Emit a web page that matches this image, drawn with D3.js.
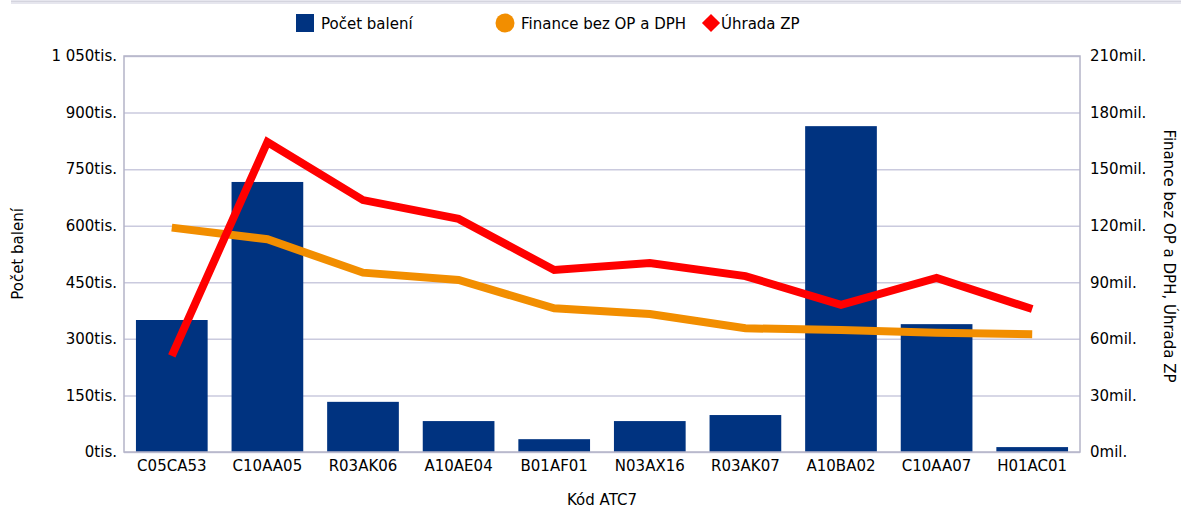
<!DOCTYPE html>
<html>
<head>
<meta charset="utf-8">
<script src="https://cdn.jsdelivr.net/npm/d3@7"></script>
<style>
  body { margin: 0; background: #fff; }
  svg text { font-family: "DejaVu Sans", Verdana, sans-serif; font-size: 15px; fill: #000; }
</style>
</head>
<body>
<svg width="1181" height="508"></svg>
<script>
const svg = d3.select('svg');

const width = +svg.attr('width');
const height = +svg.attr('height');

// data
const codes = ['C05CA53', 'C10AA05', 'R03AK06', 'A10AE04', 'B01AF01', 'N03AX16', 'R03AK07', 'A10BA02', 'C10AA07', 'H01AC01'];
const packs = [350, 716, 133, 82, 34, 82, 98, 864, 339, 13];          // tis.
const finance = [119, 112.8, 95.1, 91.2, 76.2, 73.2, 65.6, 64.7, 63.3, 62.4]; // mil.
const uhrada = [51, 164.4, 133.6, 123.6, 96.5, 100.2, 93.3, 78, 92.3, 75.8];  // mil.
const leftTicks = [0, 150, 300, 450, 600, 750, 900, 1050];
const rightTicks = [0, 30, 60, 90, 120, 150, 180, 210];

const margin = { top: 56, right: 101, bottom: 56, left: 124 };
const innerWidth = width - margin.left - margin.right;
const innerHeight = height - margin.top - margin.bottom;

const barColor = '#003380';
const financeColor = '#f28e00';
const uhradaColor = '#ff0000';

// top decorative band
svg.append('rect')
  .attr('x', 11).attr('y', 0).attr('width', width - 11).attr('height', 4)
  .attr('fill', '#e6e6ee');
svg.append('line')
  .attr('x1', 11).attr('x2', width).attr('y1', 1.5).attr('y2', 1.5)
  .attr('stroke', '#d4d4de').attr('stroke-width', 1);

const g = svg.append('g')
  .attr('transform', `translate(${margin.left},${margin.top})`);

const xScale = d3.scaleBand()
  .domain(codes)
  .range([0, innerWidth])
  .paddingInner(0.25)
  .paddingOuter(0.125);

const yLeft = d3.scaleLinear().domain([0, 1050]).range([innerHeight, 0]);
const yRight = d3.scaleLinear().domain([0, 210]).range([innerHeight, 0]);

// gridlines
g.append('g')
  .attr('class', 'grid')
  .call(d3.axisLeft(yLeft).tickValues(leftTicks).tickSize(-innerWidth).tickFormat(''))
  .call(s => s.select('.domain').remove())
  .call(s => s.selectAll('line').attr('stroke', '#cacade').attr('stroke-width', 1.5));

// bars
g.selectAll('rect.bar').data(packs)
  .enter().append('rect')
    .attr('class', 'bar')
    .attr('x', (d, i) => xScale(codes[i]))
    .attr('width', xScale.bandwidth())
    .attr('y', d => yLeft(d))
    .attr('height', d => innerHeight - yLeft(d))
    .attr('fill', barColor);

// plot frame
g.append('rect')
  .attr('x', 0).attr('y', 0).attr('width', innerWidth).attr('height', innerHeight)
  .attr('fill', 'none').attr('stroke', '#b4b4c8').attr('stroke-width', 1.5);

// lines
const lineGen = d3.line()
  .x((d, i) => xScale(codes[i]) + xScale.bandwidth() / 2)
  .y(d => yRight(d));

g.append('path').datum(finance)
  .attr('d', lineGen)
  .attr('fill', 'none').attr('stroke', financeColor).attr('stroke-width', 8);

g.append('path').datum(uhrada)
  .attr('d', lineGen)
  .attr('fill', 'none').attr('stroke', uhradaColor).attr('stroke-width', 8);

// axes
const fmtTis = d => d3.format(',')(d).replace(/,/g, '\u00a0') + 'tis.';
const yAxisL = g.append('g')
  .call(d3.axisLeft(yLeft).tickValues(leftTicks).tickSize(0).tickPadding(7).tickFormat(fmtTis));
yAxisL.select('.domain').remove();

const yAxisR = g.append('g')
  .attr('transform', `translate(${innerWidth},0)`)
  .call(d3.axisRight(yRight).tickValues(rightTicks).tickSize(0).tickPadding(10).tickFormat(d => d + 'mil.'));
yAxisR.select('.domain').remove();

const xAxis = g.append('g')
  .attr('transform', `translate(0,${innerHeight})`)
  .call(d3.axisBottom(xScale).tickSize(0).tickPadding(8));
xAxis.select('.domain').remove();

svg.selectAll('.tick text').style('font-size', '15px').attr('fill', '#000');

// axis titles
svg.append('text')
  .attr('transform', `translate(23,${margin.top + innerHeight / 2}) rotate(-90)`)
  .attr('text-anchor', 'middle')
  .text('Počet balení');

svg.append('text')
  .attr('transform', `translate(1164,${margin.top + innerHeight / 2 + 2}) rotate(90)`)
  .attr('text-anchor', 'middle')
  .text('Finance bez OP a DPH, Úhrada ZP');

svg.append('text')
  .attr('x', margin.left + innerWidth / 2)
  .attr('y', 505)
  .attr('text-anchor', 'middle')
  .text('Kód ATC7');

// legend
const legend = svg.append('g');
legend.append('rect')
  .attr('x', 296).attr('y', 14).attr('width', 18).attr('height', 18)
  .attr('fill', barColor);
legend.append('text').attr('x', 321).attr('y', 29).text('Počet balení');

legend.append('circle')
  .attr('cx', 505).attr('cy', 23).attr('r', 9.5)
  .attr('fill', financeColor);
legend.append('text').attr('x', 521).attr('y', 29).text('Finance bez OP a DPH');

legend.append('path')
  .attr('d', d3.symbol(d3.symbolDiamond2, 210)())
  .attr('transform', 'translate(711,23)')
  .attr('fill', uhradaColor);
legend.append('text').attr('x', 721).attr('y', 29).text('Úhrada ZP');
</script>
</body>
</html>
